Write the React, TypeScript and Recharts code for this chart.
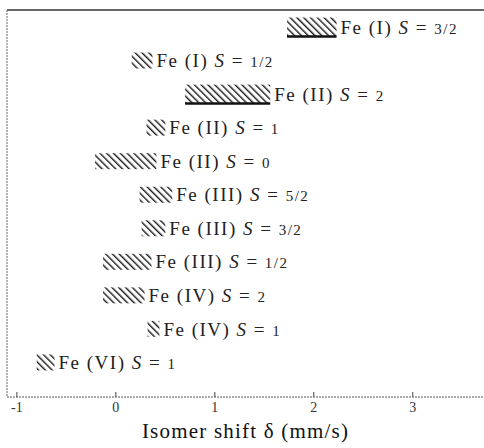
import { BarChart, Bar, XAxis, YAxis, LabelList } from "recharts"

// Mössbauer isomer shift ranges, top row first
const oxidation = ["I", "I", "II", "II", "II", "III", "III", "III", "IV", "IV", "VI"]
const spin = ["3/2", "1/2", "2", "1", "0", "5/2", "3/2", "1/2", "2", "1", "1"]
const shiftLow = [1.73, 0.16, 0.7, 0.31, -0.21, 0.24, 0.26, -0.13, -0.13, 0.32, -0.8]
const shiftHigh = [2.23, 0.37, 1.56, 0.5, 0.41, 0.57, 0.5, 0.36, 0.29, 0.44, -0.62]
const xTicks = [-1, 0, 1, 2, 3]

// rows drawn with a heavy underline in the source figure
const underlined = [0, 2]

const data = oxidation.map((ox, i) => ({
  name: `Fe(${ox}) S=${spin[i]}`,
  range: [shiftLow[i], shiftHigh[i]],
}))

const serif = "'Liberation Serif', 'DejaVu Serif', serif"

function HatchBar(props: any) {
  const { x, y, width, height, index } = props
  const thick = underlined.includes(index)
  const top = thick ? y - 1.5 : y
  const h = thick ? height + 3 : height
  return (
    <g>
      <rect x={x} y={top} width={width} height={h} fill="url(#hatch)" />
      {thick && (
        <line x1={x} x2={x + width} y1={top + h} y2={top + h} stroke="#111" strokeWidth={2.5} />
      )}
    </g>
  )
}

function RowLabel(props: any) {
  const { x, y, width, height, index } = props
  return (
    <text
      x={x + width + 4}
      y={y + height / 2}
      dy="0.35em"
      fontFamily={serif}
      fontSize={19}
      fill="#222"
      letterSpacing={1.5}
    >
      Fe ({oxidation[index]}){"  "}
      <tspan fontStyle="italic">S</tspan>
      <tspan> = </tspan>
      <tspan fontSize={15}>{spin[index]}</tspan>
    </text>
  )
}

function ShiftTick(props: any) {
  const { x, y, payload } = props
  return (
    <g>
      <line x1={x} x2={x} y1={y - 5} y2={y} stroke="#444" />
      <text x={x} y={y + 15} textAnchor="middle" fontFamily={serif} fontSize={14} fill="#333">
        {payload.value}
      </text>
    </g>
  )
}

export default function App() {
  return (
    <div style={{ position: "absolute", left: 0, top: 0, background: "#fff" }}>
      <BarChart
        width={484}
        height={448}
        data={data}
        layout="vertical"
        margin={{ top: 9, right: 0, left: 6, bottom: 21 }}
      >
        <defs>
          <pattern id="hatch" patternUnits="userSpaceOnUse" width={4.8} height={4.8} patternTransform="rotate(-45)">
            <rect width={4.8} height={4.8} fill="#fff" />
            <line x1={0} y1={0} x2={0} y2={4.8} stroke="#1a1a1a" strokeWidth={2.8} />
          </pattern>
        </defs>
        <XAxis
          type="number"
          domain={[-1.1, 3.72]}
          ticks={xTicks}
          allowDataOverflow
          height={30}
          tickSize={0}
          tickMargin={0}
          tick={<ShiftTick />}
          axisLine={{ stroke: "#555", strokeDasharray: "2 1" }}
          label={{
            value: "Isomer shift δ (mm/s)",
            position: "bottom",
            offset: -4,
            style: { fontFamily: serif, fontSize: 21, fill: "#111", letterSpacing: 1.2 },
          }}
        />
        <XAxis
          xAxisId="top"
          orientation="top"
          type="number"
          domain={[-1.1, 3.72]}
          height={1}
          tick={false}
          tickLine={false}
          axisLine={{ stroke: "#333", strokeWidth: 1.5 }}
        />
        <YAxis
          type="category"
          dataKey="name"
          width={1}
          tick={false}
          tickLine={false}
          padding={{ top: 0, bottom: 18 }}
          axisLine={{ stroke: "#666", strokeDasharray: "2 1" }}
        />
        <Bar dataKey="range" barSize={16} shape={<HatchBar />} isAnimationActive={false}>
          <LabelList dataKey="range" content={<RowLabel />} />
        </Bar>
      </BarChart>
    </div>
  )
}
